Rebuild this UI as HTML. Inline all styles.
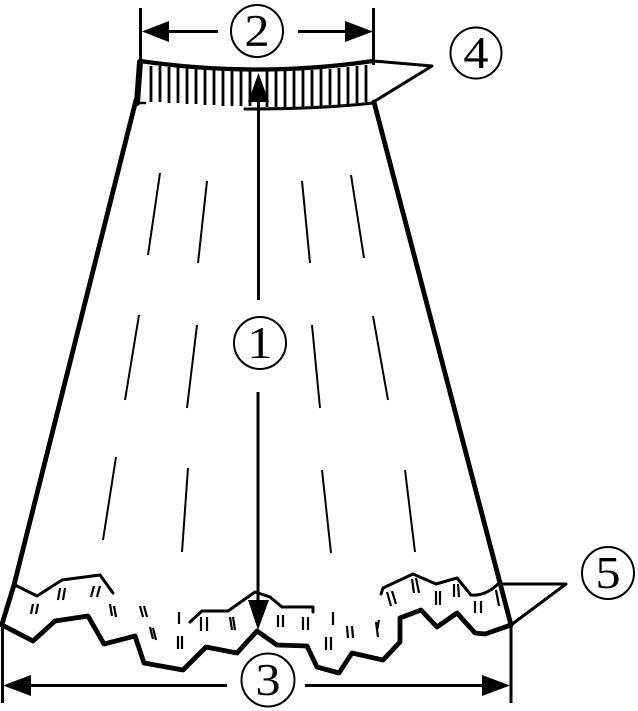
<!DOCTYPE html>
<html><head><meta charset="utf-8"><style>
html,body{margin:0;padding:0;background:#fff;width:638px;height:711px;overflow:hidden}
svg{display:block}
text{font-family:"Liberation Serif",serif;font-size:45px;text-anchor:middle;fill:#000}
</style></head><body>
<svg width="638" height="711" viewBox="0 0 638 711" xmlns="http://www.w3.org/2000/svg">
<g fill="none" stroke="#000" stroke-linejoin="round" stroke-linecap="round">
<!-- dimension lines -->
<g stroke-width="3" stroke-linecap="butt">
<path d="M140.500 8V65M373.500 8V65M2.500 625V703M511 625V703"/>
<path d="M168 31.500H218M298 31.500H346M30 685.500H227M305 685.500H484"/>
<path d="M258.500 100V300M258 392V600"/>
</g>
<!-- waistband -->
<path d="M140 61Q258 78 373 61" stroke-width="4.200"/>
<path d="M140 62L137 103" stroke-width="6"/>
<path d="M245 109Q320 109 373 103" stroke-width="3"/>
<path d="M137 103H145" stroke-width="2.500"/>
<path d="M373 61L432 66L375 101" stroke-width="3"/>
<path stroke-width="2.800" stroke-linecap="butt" d="M151 66V102M160 66V102M169 67V103M178 67V103M187 68V104M196 68V104M205 69V105M214 69V105M223 70V106M232 70V106M241 70V106M250 70V106M267 71V107M276 71V107M285 70V107M294 70V107M303 70V107M312 70V106M321 69V106M330 69V105M339 68V105M348 67V104M357 66V103M366 65V102"/>
<!-- skirt sides -->
<path d="M136 100L14 585L2 624" stroke-width="4.800"/>
<path d="M374 102L511 625" stroke-width="4.800"/>
<!-- hem -->
<path stroke-width="4.800" d="M2 625L33 641L55 621L88 616L104 644L135 636L144 663L183 670L206 647L237 653L257 631L277 645L307 646L317 667L339 673L352 653L383 660L400 642V618L421 610L437 627L457 613L475 633L485 634L511 625"/>
<path stroke-width="3" d="M15 585L37 596L62 580L77 578L100 575L113 593"/>
<path stroke-width="3" d="M190 622L202 611H228L255 592L270 597L282 607H313V612"/>
<path stroke-width="3" d="M381 594L383 588L413 574L436 584L457 578L471 595C480 596 490 592 498 584"/>
<path d="M498 584H566L511 625" stroke-width="3"/>
<!-- fold lines -->
<path stroke-width="2" stroke-linecap="butt" d="M160 173L148 255M207 181L198 263M302 181L310 263M351 175L364 258M139 315L125 400M197 325L187 408M312 325L320 408M373 316L388 400M116 457L103 540M188 468L182 552M322 470L331 553M405 470L415 552"/>
<!-- stitch marks -->
<path stroke-width="2.200" stroke-linecap="butt" d="M33 604L31 614M38 604L36 614M60 588L58 600M65 588L63 600M94 586L91 597M100 586L97 597M110 604L112 616M114 606L116 617M140 606L143 617M144 606L147 617M150 627L153 639M153 628L156 640M179 612V624M178 636V649M182 636V649M201 617V631M207 617V631M230 617L232 630M233 617L235 630M278 615V627M283 615V627M303 617V630M308 617V630M326 637V650M331 637V650M333 612V625M347 626L348 638M352 626L353 638M376 622L378 637M379 620L377 630M387 592L391 606M392 591L396 604M412 579L414 593M416 578L419 593M436 591V605M440 591V605M454 584V597M458 584L459 597M475 601V613M481 601V613M496 590L499 606"/>
</g>
<!-- arrowheads -->
<g fill="#000">
<polygon points="142,31.500 169,21 169,42"/>
<polygon points="373,31.500 345,21 345,42"/>
<polygon points="3,685.500 31,675 31,696"/>
<polygon points="510,685.500 482,675 482,696"/>
<polygon points="258.500,73 248,102 269,102"/>
<polygon points="258,630 248,600 269,600"/>
</g>
<!-- labels -->
<g fill="#fff" stroke="#000" stroke-width="2">
<circle cx="257" cy="31" r="26"/>
<circle cx="260" cy="343" r="26"/>
<circle cx="268" cy="680" r="26.500"/>
<circle cx="476" cy="53" r="25.500"/>
<circle cx="608" cy="573" r="26"/>
</g>
<text transform="translate(257 46) scale(1.12 1)">2</text>
<text transform="translate(260 358) scale(1.12 1)">1</text>
<text transform="translate(268 695) scale(1.12 1)">3</text>
<text transform="translate(476 68) scale(1.12 1)">4</text>
<text transform="translate(608 588) scale(1.12 1)">5</text>
</svg>
</body></html>
